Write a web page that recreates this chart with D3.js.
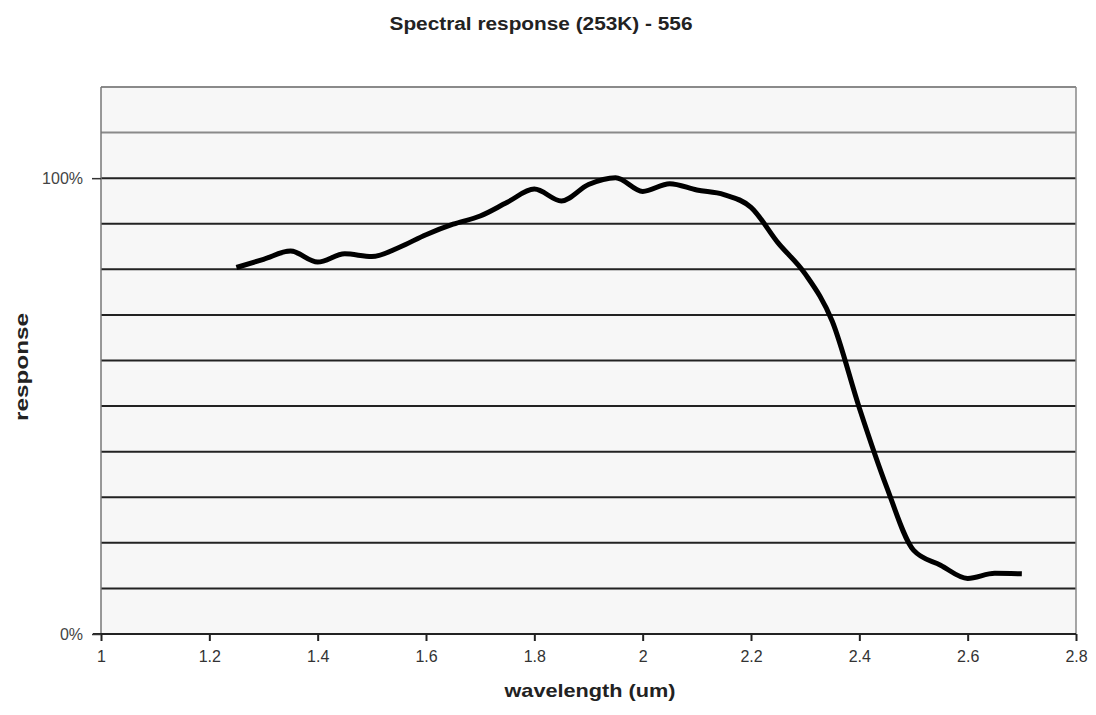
<!DOCTYPE html>
<html><head><meta charset="utf-8">
<script src="https://cdn.jsdelivr.net/npm/d3@7"></script>
<style>body{margin:0;background:#fff;} text{font-family:"Liberation Sans",Arial,sans-serif;}</style>
</head><body>
<svg id="chart" width="1096" height="715"></svg>
<script>
const wavelength = [1.25,1.30,1.35,1.40,1.45,1.50,1.55,1.60,1.65,1.70,1.75,1.80,1.85,1.90,1.95,2.00,2.05,2.10,2.15,2.20,2.25,2.30,2.35,2.40,2.45,2.50,2.55,2.60,2.65,2.70];
const response = [80.4,82.2,84.0,81.6,83.4,82.8,84.8,87.6,89.9,91.7,94.7,97.6,95.0,98.6,100.1,97.1,98.8,97.4,96.4,93.6,85.8,79.0,68.6,49.6,32.4,18.4,15.1,12.2,13.3,13.2];
const xTicks = [1,1.2,1.4,1.6,1.8,2,2.2,2.4,2.6,2.8];
const xTickLabels = ["1","1.2","1.4","1.6","1.8","2","2.2","2.4","2.6","2.8"];
const yLabelValues = [0,100];
const yLabels = ["0%","100%"];
const gridValues = [10,20,30,40,50,60,70,80,90,100,110,120];

const svg = d3.select("#chart");
const L=101, R=1076, T=87, B=634;
const x = d3.scaleLinear().domain([1,2.8]).range([L,R]);
const y = d3.scaleLinear().domain([0,120]).range([B,T]);

svg.append("rect").attr("x",L).attr("y",T).attr("width",R-L).attr("height",B-T).attr("fill","#f7f7f7");

// gridlines
svg.append("g").selectAll("line").data(gridValues).join("line")
  .attr("x1",L).attr("x2",R).attr("y1",d=>y(d)).attr("y2",d=>y(d))
  .attr("stroke",d=>d>100?"#8a8a8a":"#222").attr("stroke-width",2);

// border left/right
svg.append("line").attr("x1",L).attr("x2",L).attr("y1",T).attr("y2",B).attr("stroke","#777").attr("stroke-width",1.5);
svg.append("line").attr("x1",R).attr("x2",R).attr("y1",T).attr("y2",B).attr("stroke","#888").attr("stroke-width",1.5);

// x axis
const xAxis = d3.axisBottom(x).tickValues(xTicks).tickFormat((d,i)=>xTickLabels[i]).tickSize(7).tickPadding(10);
const gx = svg.append("g").attr("transform",`translate(0,${B})`).call(xAxis);
gx.select(".domain").attr("stroke","#222").attr("stroke-width",2).attr("d",`M${L-8},0H${R}`);
gx.selectAll(".tick line").attr("stroke","#222").attr("stroke-width",2);
gx.selectAll("text").attr("font-size",16).attr("fill","#333").attr("font-family","Liberation Sans,Arial,sans-serif");

// y axis
const yAxis = d3.axisLeft(y).tickValues(yLabelValues).tickFormat((d,i)=>yLabels[i]).tickSize(9).tickPadding(9);
const gy = svg.append("g").attr("transform",`translate(${L},0)`).call(yAxis);
gy.select(".domain").remove();
gy.selectAll(".tick line").attr("stroke","#333").attr("stroke-width",1.5);
gy.selectAll("text").attr("font-size",16).attr("fill","#444").attr("font-family","Liberation Sans,Arial,sans-serif");

// line
const data = wavelength.map((w,i)=>({w, r:response[i]}));
svg.append("path").datum(data)
  .attr("fill","none").attr("stroke","#000").attr("stroke-width",5).attr("stroke-linejoin","round")
  .attr("d", d3.line().x(d=>x(d.w)).y(d=>y(d.r)).curve(d3.curveMonotoneX));

// titles
svg.append("text").attr("x",541).attr("y",30).attr("text-anchor","middle").attr("font-size",18).attr("font-weight","bold").attr("fill","#222")
  .attr("textLength",303).attr("lengthAdjust","spacingAndGlyphs").text("Spectral response (253K) - 556");
svg.append("text").attr("x",590).attr("y",697).attr("text-anchor","middle").attr("font-size",19).attr("font-weight","bold").attr("fill","#222")
  .attr("textLength",171).attr("lengthAdjust","spacingAndGlyphs").text("wavelength (um)");
svg.append("text").attr("transform","translate(28,367) rotate(-90)").attr("text-anchor","middle").attr("font-size",19).attr("font-weight","bold").attr("fill","#222")
  .attr("textLength",108).attr("lengthAdjust","spacingAndGlyphs").text("response");
</script>
</body></html>
